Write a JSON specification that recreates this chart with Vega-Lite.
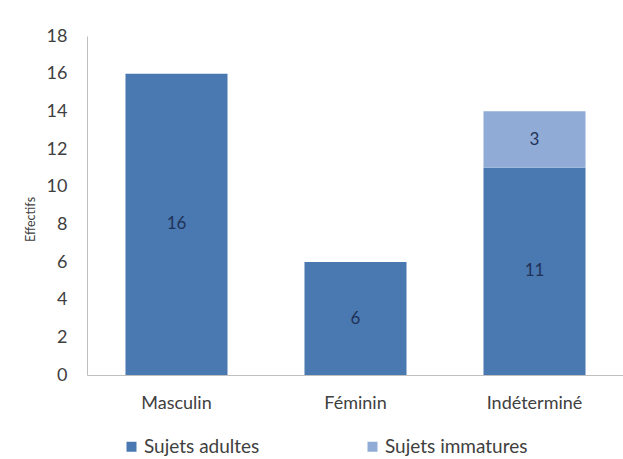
{
  "$schema": "https://vega.github.io/schema/vega-lite/v6.json",
  "autosize": {"type": "none"},
  "padding": {"left": 87, "top": 36, "right": 0, "bottom": 84},
  "width": 537,
  "height": 339,
  "background": "white",
  "config": {
    "view": {"stroke": null},
    "font": "Lato",
    "axisY": {
      "values": [0, 2, 4, 6, 8, 10, 12, 14, 16, 18],
      "labelOverlap": false,
      "labelFlush": false,
      "ticks": false,
      "labelPadding": 20,
      "labelFontSize": 18,
      "labelColor": "#404040",
      "domainColor": "#bfbfbf",
      "grid": false,
      "titleFontSize": 12.5,
      "titleFontWeight": "normal",
      "titleColor": "#404040",
      "titleX": -57,
      "titleY": 183,
      "titleAngle": -90,
      "titleBaseline": "middle",
      "titleAlign": "center"
    }
  },
  "data": {
    "values": [
      {"categorie": "Masculin", "type": "Sujets adultes", "effectif": 16},
      {"categorie": "Féminin", "type": "Sujets adultes", "effectif": 6},
      {"categorie": "Indéterminé", "type": "Sujets adultes", "effectif": 11},
      {"categorie": "Indéterminé", "type": "Sujets immatures", "effectif": 3}
    ]
  },
  "encoding": {
    "x": {
      "field": "categorie",
      "type": "nominal",
      "sort": ["Masculin", "Féminin", "Indéterminé"],
      "scale": {"paddingInner": 0.43, "paddingOuter": 0.215},
      "axis": {
        "title": null,
        "labelAngle": 0,
        "ticks": false,
        "labelPadding": 19,
        "labelFontSize": 18,
        "labelColor": "#404040",
        "domainColor": "#bfbfbf",
        "grid": false
      }
    }
  },
  "layer": [
    {
      "mark": {"type": "bar"},
      "encoding": {
        "y": {
          "field": "effectif",
          "type": "quantitative",
          "stack": "zero",
          "scale": {"domain": [0, 18], "nice": false},
          "axis": {"title": "Effectifs", "values": [0, 2, 4, 6, 8, 10, 12, 14, 16, 18]}
        },
        "order": {"field": "type", "sort": "ascending"},
        "color": {
          "field": "type",
          "type": "nominal",
          "scale": {"domain": ["Sujets adultes", "Sujets immatures"], "range": ["#4a78b0", "#90acd6"]},
          "legend": {
            "title": null,
            "orient": "none",
            "direction": "horizontal",
            "legendX": 35,
            "legendY": 401,
            "symbolType": "square",
            "symbolSize": 100,
            "symbolStrokeWidth": 0,
            "symbolOpacity": 1,
            "labelFontSize": 19,
            "labelColor": "#404040",
            "labelOffset": 3,
            "columnPadding": 103
          }
        }
      }
    },
    {
      "transform": [
        {"stack": "effectif", "groupby": ["categorie"], "sort": [{"field": "type", "order": "ascending"}], "as": ["lo", "hi"]},
        {"calculate": "(datum.lo + datum.hi) / 2", "as": "mid"}
      ],
      "mark": {"type": "text", "fontSize": 17, "color": "#1f3358", "baseline": "middle"},
      "encoding": {
        "y": {
          "field": "mid",
          "type": "quantitative",
          "axis": {"title": "Effectifs", "values": [0, 2, 4, 6, 8, 10, 12, 14, 16, 18]}
        },
        "text": {"field": "effectif", "type": "quantitative"}
      }
    }
  ]
}
